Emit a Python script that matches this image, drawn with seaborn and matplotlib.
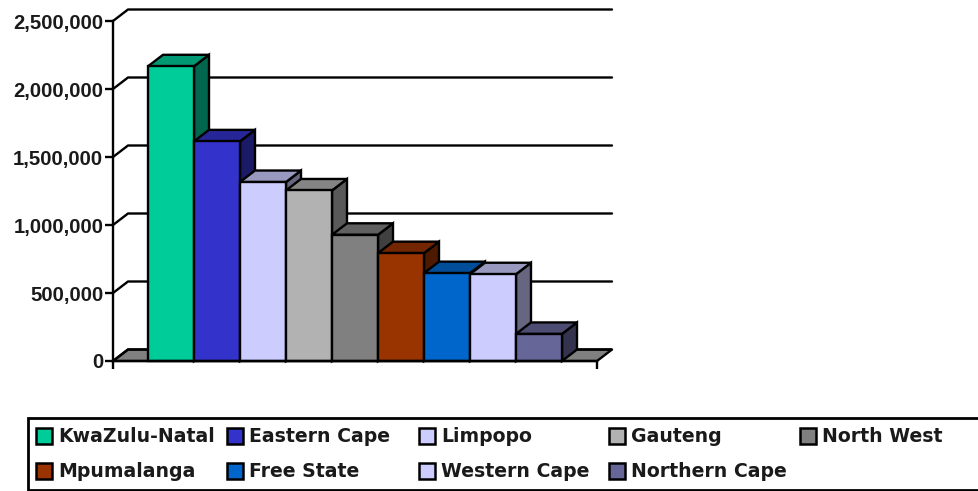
import matplotlib
matplotlib.use("Agg")
import matplotlib.pyplot as plt
from matplotlib.colors import to_rgb
from matplotlib.patches import Polygon, Rectangle
from matplotlib.ticker import StrMethodFormatter
import pandas as pd
import seaborn as sns

provinces = ["KwaZulu-Natal", "Eastern Cape", "Limpopo", "Gauteng", "North West",
             "Mpumalanga", "Free State", "Western Cape", "Northern Cape"]
values = [2167000, 1615000, 1316000, 1254000, 928000, 793000, 646000, 638000, 199000]
colors = ["#00CC99", "#3333CC", "#CCCCFF", "#B2B2B2", "#808080",
          "#993300", "#0066CC", "#CCCCFF", "#666699"]
y_ticks = [0, 500000, 1000000, 1500000, 2000000, 2500000]

W, H = 979, 491
LEFT, RIGHT, BASE, TOP = 113, 597, 361, 21
# 3d offset in pixels
DX, DY = 15, 11.5
LINE = 1.7

sns.set_theme(style="white")
plt.rcParams["font.family"] = ["Liberation Sans", "DejaVu Sans"]

fig = plt.figure(figsize=(W / 100, H / 100), dpi=100)
ax = fig.add_axes([LEFT / W, 1 - BASE / H, (RIGHT - LEFT) / W, (BASE - TOP) / H])

df = pd.DataFrame({"Province": provinces, "Population": values})
sns.barplot(data=df, x="Province", y="Population", hue="Province", order=provinces,
            hue_order=provinces, palette=colors, width=1, saturation=1, legend=False,
            errorbar=None, edgecolor="black", linewidth=LINE, ax=ax)

# grab the bars before the 3d faces get added
bars = sorted([p for p in ax.patches if p.get_height() > 0], key=lambda p: p.get_x())

bar_px = 46
margin = (RIGHT - LEFT) / bar_px - len(provinces)
ax.set_xlim(-0.5 - margin / 2, len(provinces) - 0.5 + margin / 2)
ax.set_ylim(0, max(y_ticks))
dx = DX / bar_px
dy = DY * max(y_ticks) / (BASE - TOP)
x0, x1 = ax.get_xlim()

ax.set_xlabel("")
ax.set_ylabel("")
ax.set_xticks([x0, x1])
ax.set_xticklabels([])
ax.set_yticks(y_ticks)
ax.yaxis.set_major_formatter(StrMethodFormatter("{x:,.0f}"))
ax.tick_params(axis="both", length=6, width=LINE, color="black", left=True, bottom=True, pad=1)
for label in ax.get_yticklabels():
    label.set_fontsize(14.6)
    label.set_fontweight("bold")
    label.set_color("#1a1a1a")
for side in ["top", "right"]:
    ax.spines[side].set_visible(False)
for side in ["left", "bottom"]:
    ax.spines[side].set_color("black")
    ax.spines[side].set_linewidth(LINE)
    ax.spines[side].set_zorder(60)

# floor and back wall
ax.add_patch(Polygon([(x0, 0), (x0 + dx, dy), (x1 + dx, dy), (x1, 0)], closed=True,
                     facecolor="#808080", edgecolor="black", linewidth=LINE,
                     clip_on=False, zorder=0.5))
for tick in y_ticks:
    ax.plot([x0, x0 + dx, x1 + dx], [tick, tick + dy, tick + dy], color="black", lw=LINE,
            clip_on=False, zorder=0.6, solid_joinstyle="miter")


def shade(color, factor):
    return tuple(c * factor for c in to_rgb(color))


# side and top of each bar, later bars cover the earlier ones
for i, (bar, color) in enumerate(zip(bars, colors)):
    left = bar.get_x()
    right = left + bar.get_width()
    h = bar.get_height()
    z = 2 + i * 3
    ax.add_patch(Polygon([(right, 0), (right + dx, dy), (right + dx, h + dy), (right, h)],
                         closed=True, facecolor=shade(color, 0.5), edgecolor="black",
                         linewidth=LINE, clip_on=False, zorder=z))
    ax.add_patch(Polygon([(left, h), (left + dx, h + dy), (right + dx, h + dy), (right, h)],
                         closed=True, facecolor=shade(color, 0.75), edgecolor="black",
                         linewidth=LINE, clip_on=False, zorder=z + 1))
    bar.set_zorder(z + 2)
    bar.set_clip_on(False)

# legend box runs past the right edge like in the original
over = fig.add_axes([0, 0, 1, 1], facecolor="none")
over.set_xlim(0, W)
over.set_ylim(H, 0)
over.axis("off")
over.add_patch(Rectangle((28, 418), W, 72, facecolor="white", edgecolor="black", linewidth=2))
col_x = [36, 227.5, 419, 609, 800]
row_y = [436, 470.5]
for i, (name, color) in enumerate(zip(provinces, colors)):
    col = i % 5
    row = i // 5
    over.add_patch(Rectangle((col_x[col], row_y[row] - 8), 16, 16, facecolor=color,
                             edgecolor="black", linewidth=1.8))
    over.text(col_x[col] + 22, row_y[row] + 1, name, fontsize=13.6, fontweight="bold",
              family=["DejaVu Sans"], color="#1a1a1a", va="center", ha="left")

fig.savefig("out.png", dpi=100)
